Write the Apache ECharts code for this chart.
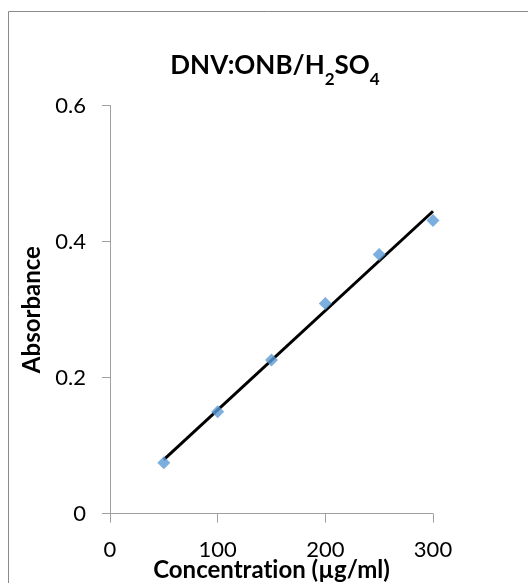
<!DOCTYPE html>
<html>
<head>
<meta charset="utf-8">
<script src="https://cdn.jsdelivr.net/npm/echarts@6/dist/echarts.min.js"></script>
<style>
  html, body { margin: 0; padding: 0; background: #fff; }
  #chart { width: 528px; height: 583px; }
</style>
</head>
<body>
<div id="chart"></div>
<script>
  // concentration (µg/ml) and absorbance
  var concentration = [50, 100, 150, 200, 250, 300];
  var absorbance = [0.075, 0.150, 0.226, 0.309, 0.381, 0.431];
  var xTicks = [0, 100, 200, 300];
  var yTicks = [0, 0.2, 0.4, 0.6];

  // least squares line, as Excel's linear trendline
  var n = concentration.length, sx = 0, sy = 0, sxx = 0, sxy = 0;
  for (var i = 0; i < n; i++) {
    sx += concentration[i]; sy += absorbance[i];
    sxx += concentration[i] * concentration[i];
    sxy += concentration[i] * absorbance[i];
  }
  var slope = (n * sxy - sx * sy) / (n * sxx - sx * sx);
  var icpt = (sy - slope * sx) / n;
  var x0 = concentration[0], x1 = concentration[n - 1];
  var trend = [[x0, icpt + slope * x0], [x1, icpt + slope * x1]];

  var chart = echarts.init(document.getElementById('chart'));
  var font = 'Lato, Carlito, sans-serif';
  var axisGrey = '#a0a0a0';
  var nameStyle = { fontFamily: font, fontWeight: 'bold', fontSize: 24, color: '#000' };

  chart.setOption({
    animation: false,
    backgroundColor: '#fff',
    graphic: [{
      type: 'rect',
      shape: { x: 8.5, y: 11.5, width: 600, height: 700 },
      style: { fill: 'none', stroke: '#8a8a8a', lineWidth: 1 },
      silent: true
    }],
    title: {
      text: '{b|DNV:ONB/H}{s|2}{b|SO}{s|4}',
      left: 270,
      textAlign: 'center',
      top: 42,
      textStyle: {
        rich: {
          b: { fontFamily: font, fontWeight: 'bold', fontSize: 26, color: '#000', lineHeight: 32, verticalAlign: 'bottom' },
          s: { fontFamily: font, fontWeight: 'bold', fontSize: 17, color: '#000', lineHeight: 32, verticalAlign: 'bottom', padding: [0, 0, -9, 0] }
        }
      }
    },
    grid: {
      left: 110, right: 95, top: 105.5, bottom: 69.3,
      containLabel: false, outerBoundsMode: 'none'
    },
    xAxis: {
      type: 'value',
      min: xTicks[0], max: xTicks[xTicks.length - 1], interval: 100,
      // two pieces so Lato does not draw its "ti" ligature
      name: '{a|Concentrat}{a|ion (µg/ml)}',
      nameLocation: 'middle',
      nameGap: 45,
      nameMoveOverlap: false,
      nameTextStyle: Object.assign({ rich: { a: nameStyle } }, nameStyle),
      axisLine: { lineStyle: { color: axisGrey, width: 1 } },
      axisTick: { show: true, length: 9, lineStyle: { color: axisGrey } },
      axisLabel: { fontFamily: font, fontSize: 22, color: '#000', margin: 25 },
      splitLine: { show: false }
    },
    yAxis: {
      type: 'value',
      min: yTicks[0], max: yTicks[yTicks.length - 1], interval: 0.2,
      name: 'Absorbance',
      nameLocation: 'middle',
      nameGap: 66,
      nameMoveOverlap: false,
      nameTextStyle: nameStyle,
      axisLine: { show: true, lineStyle: { color: axisGrey, width: 1 } },
      axisTick: { show: true, length: 8, lineStyle: { color: axisGrey } },
      axisLabel: { fontFamily: font, fontSize: 22, color: '#000', margin: 24 },
      splitLine: { show: false }
    },
    series: [{
      type: 'line',
      data: trend,
      symbol: 'none',
      lineStyle: { color: '#000', width: 3 },
      z: 2
    }, {
      type: 'scatter',
      data: concentration.map(function (c, k) { return [c, absorbance[k]]; }),
      symbol: 'diamond',
      symbolSize: [13, 13],
      itemStyle: { color: '#5b9bd5' },
      z: 3
    }]
  });
</script>
</body>
</html>
